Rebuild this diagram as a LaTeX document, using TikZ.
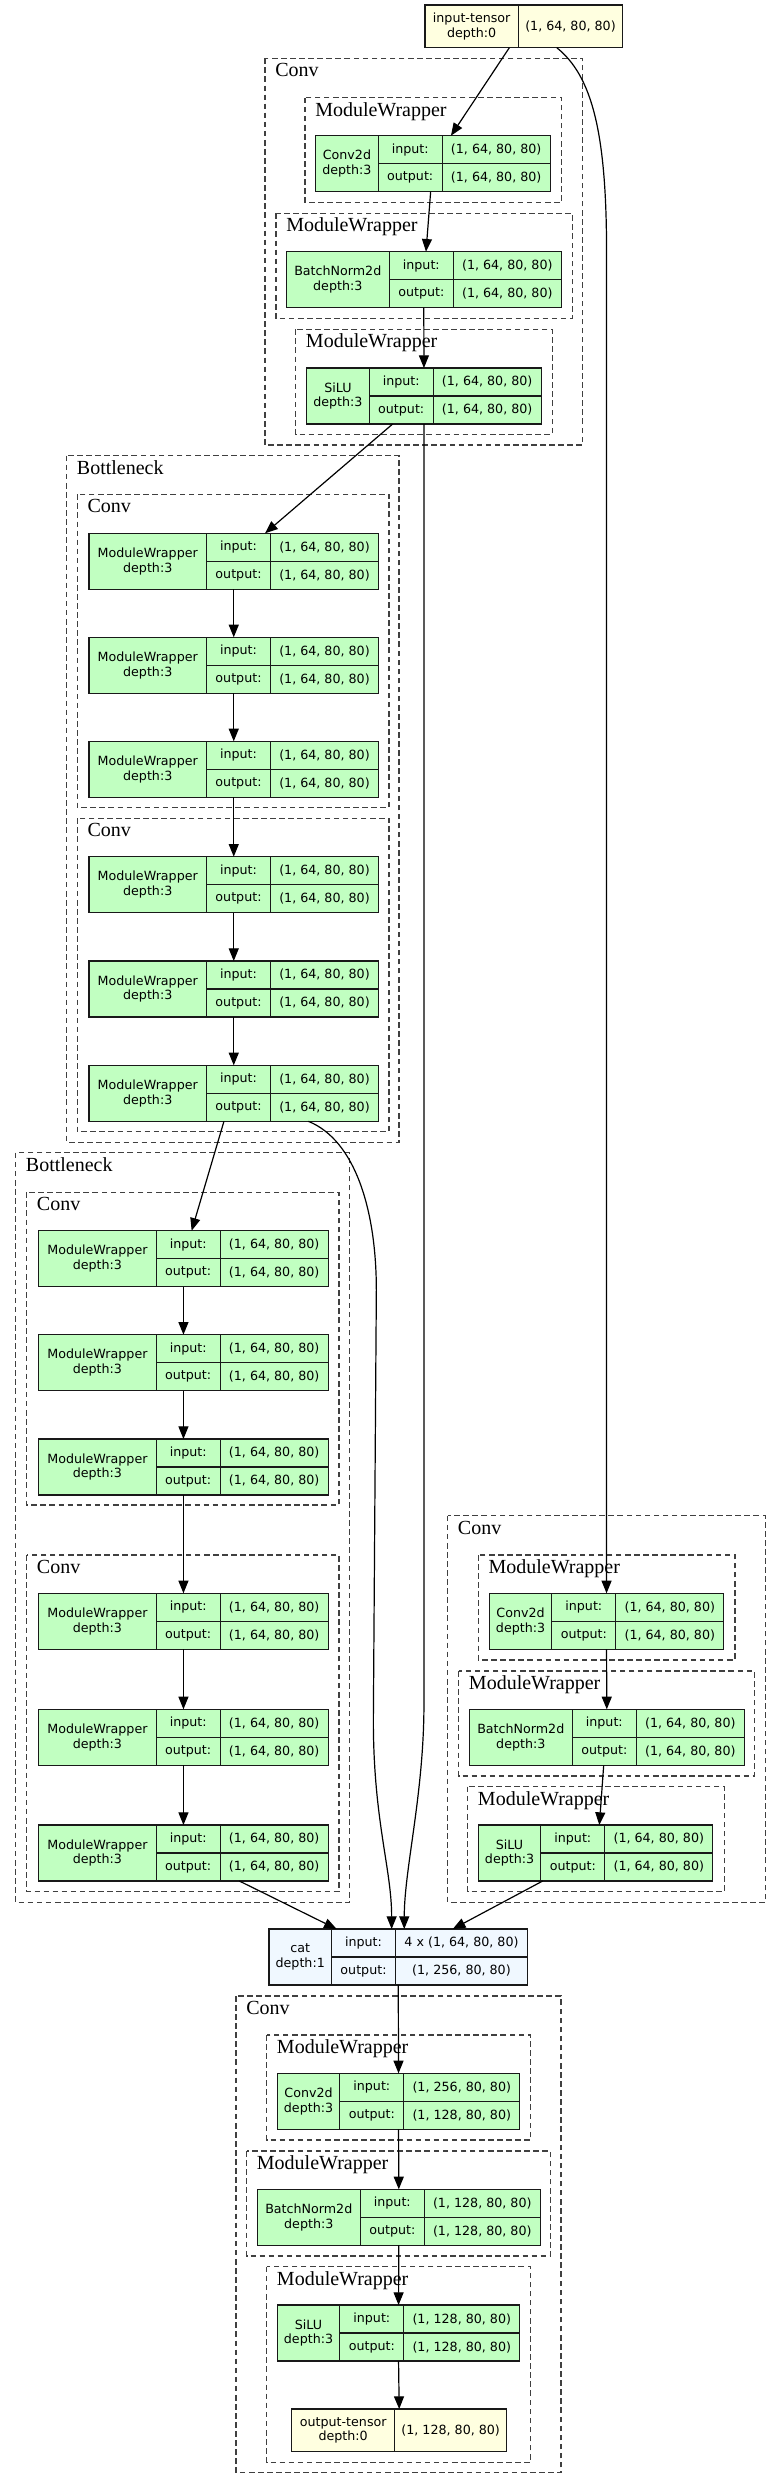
\documentclass[tikz,border=0pt]{standalone}
\usepackage{fontspec}
\setmainfont{Liberation Serif}
\newfontfamily\nodefont{DejaVu Sans}
\usetikzlibrary{arrows.meta,calc}

\definecolor{mwgreen}{HTML}{C1FFC1}
\definecolor{tensoryellow}{HTML}{FFFFE0}
\definecolor{funcblue}{HTML}{F0F8FF}

\tikzset{
  tblbox/.style={draw=black!90,line width=1pt,inner sep=0pt,outer sep=0pt,minimum height=42pt},
  tblline/.style={draw=black!90,line width=1pt},
  tbltext/.style={font=\nodefont\fontsize{9.5}{11}\selectfont,inner sep=0pt,align=center},
  cluster/.style={draw=black!75,line width=1pt,dash pattern=on 4.2pt off 2.6pt},
  clabel/.style={font=\fontsize{15}{16}\selectfont,inner sep=0pt,anchor=base west},
  arr/.style={-{Triangle[length=9.5pt,width=7.5pt]},line width=0.9pt}
}

% table node: name, fill, top left, name width, value width, title, input, output
\newcommand{\tblnode}[8]{%
  \pgfmathsetmacro\boxw{(#4+64+#5)*0.75}%
  \node[tblbox,fill=#2,minimum width=\boxw pt,anchor=north west] (#1) at (#3) {};
  \draw[tblline] ($(#1.north west)+(#4,0)$) -- ($(#1.south west)+(#4,0)$)
    ($(#1.north west)+(#4+64,0)$) -- ($(#1.south west)+(#4+64,0)$)
    ($(#1.west)+(#4,0)$) -- (#1.east);
  \node[tbltext] (#1-t) at ($(#1.west)+(#4/2,0)$) {#6};
  \node[tbltext] (#1-i) at ($(#1.north west)+(#4+32,14)$) {input:};
  \node[tbltext] (#1-o) at ($(#1.south west)+(#4+32,-14)$) {output:};
  \node[tbltext] (#1-iv) at ($(#1.north west)+(#4+64+#5/2,14)$) {#7};
  \node[tbltext] (#1-ov) at ($(#1.south west)+(#4+64+#5/2,-14)$) {#8};
}
% tensor node: name, top left, name width, value width, title, value
\newcommand{\tensornode}[6]{%
  \pgfmathsetmacro\boxw{(#3+#4)*0.75}%
  \node[tblbox,fill=tensoryellow,minimum width=\boxw pt,minimum height=32pt,anchor=north west] (#1) at (#2) {};
  \draw[tblline] ($(#1.north west)+(#3,0)$) -- ($(#1.south west)+(#3,0)$);
  \node[tbltext] (#1-t) at ($(#1.west)+(#3/2,0)$) {#5};
  \node[tbltext] (#1-v) at ($(#1.west)+(#3+#4/2,0)$) {#6};
}
% cluster: label name, top left, bottom right, label
\newcommand{\clusterbox}[4]{%
  \draw[cluster] (#2) rectangle (#3);
  \node[clabel] (#1) at ($(#2)+(10,18.5)$) {#4};
}

\begin{document}
\begin{tikzpicture}[x=0.75pt,y=-0.75pt]
\useasboundingbox[fill=white] (0,0) rectangle (781,2489);

\clusterbox{convT-l}{265,58.3}{582.7,445}{Conv}
\clusterbox{mwT1-l}{305,97.7}{561.7,202.3}{ModuleWrapper}
\clusterbox{mwT2-l}{276,213.3}{572.3,318.3}{ModuleWrapper}
\clusterbox{mwT3-l}{295.7,329.3}{552.3,434.3}{ModuleWrapper}
\clusterbox{bnk1-l}{66.7,455.7}{399,1142.3}{Bottleneck}
\clusterbox{convA-l}{77.3,494.3}{389,807.7}{Conv}
\clusterbox{convB-l}{77.3,818.3}{389,1131.7}{Conv}
\clusterbox{bnk2-l}{15.7,1152.7}{349.3,1902.3}{Bottleneck}
\clusterbox{convC-l}{26.7,1192.3}{339,1505}{Conv}
\clusterbox{convD-l}{26.7,1555}{339,1891.7}{Conv}
\clusterbox{convR-l}{447.7,1515.7}{765.3,1902.3}{Conv}
\clusterbox{mwR1-l}{478.3,1555}{735,1660}{ModuleWrapper}
\clusterbox{mwR2-l}{458.7,1671}{754.3,1776}{ModuleWrapper}
\clusterbox{mwR3-l}{467.7,1786.7}{724.3,1891.7}{ModuleWrapper}
\clusterbox{convO-l}{236,1996}{561,2472.7}{Conv}
\clusterbox{mwO1-l}{266.7,2035}{530.7,2140}{ModuleWrapper}
\clusterbox{mwO2-l}{246.7,2151}{550.7,2256}{ModuleWrapper}
\clusterbox{mwO3-l}{266.7,2266.7}{530.7,2462.3}{ModuleWrapper}

\tensornode{inT}{425,5}{93.3}{104.4}{input-tensor\\depth:0}{(1, 64, 80, 80)}
\tblnode{c2dT}{mwgreen}{315.7,135.7}{62.5}{108}{Conv2d\\depth:3}{(1, 64, 80, 80)}{(1, 64, 80, 80)}
\tblnode{bnT}{mwgreen}{286.3,251.7}{103}{108}{BatchNorm2d\\depth:3}{(1, 64, 80, 80)}{(1, 64, 80, 80)}
\tblnode{siluT}{mwgreen}{306.7,368}{62.5}{108}{SiLU\\depth:3}{(1, 64, 80, 80)}{(1, 64, 80, 80)}
\tblnode{A1}{mwgreen}{89,533.3}{117.5}{108}{ModuleWrapper\\depth:3}{(1, 64, 80, 80)}{(1, 64, 80, 80)}
\tblnode{A2}{mwgreen}{89,637.3}{117.5}{108}{ModuleWrapper\\depth:3}{(1, 64, 80, 80)}{(1, 64, 80, 80)}
\tblnode{A3}{mwgreen}{89,741.3}{117.5}{108}{ModuleWrapper\\depth:3}{(1, 64, 80, 80)}{(1, 64, 80, 80)}
\tblnode{B1}{mwgreen}{89,856.7}{117.5}{108}{ModuleWrapper\\depth:3}{(1, 64, 80, 80)}{(1, 64, 80, 80)}
\tblnode{B2}{mwgreen}{89,961}{117.5}{108}{ModuleWrapper\\depth:3}{(1, 64, 80, 80)}{(1, 64, 80, 80)}
\tblnode{B3}{mwgreen}{89,1065.3}{117.5}{108}{ModuleWrapper\\depth:3}{(1, 64, 80, 80)}{(1, 64, 80, 80)}
\tblnode{C1}{mwgreen}{38.7,1230.7}{117.5}{108}{ModuleWrapper\\depth:3}{(1, 64, 80, 80)}{(1, 64, 80, 80)}
\tblnode{C2}{mwgreen}{38.7,1334.7}{117.5}{108}{ModuleWrapper\\depth:3}{(1, 64, 80, 80)}{(1, 64, 80, 80)}
\tblnode{C3}{mwgreen}{38.7,1439}{117.5}{108}{ModuleWrapper\\depth:3}{(1, 64, 80, 80)}{(1, 64, 80, 80)}
\tblnode{D1}{mwgreen}{38.7,1593.3}{117.5}{108}{ModuleWrapper\\depth:3}{(1, 64, 80, 80)}{(1, 64, 80, 80)}
\tblnode{D2}{mwgreen}{38.7,1709.3}{117.5}{108}{ModuleWrapper\\depth:3}{(1, 64, 80, 80)}{(1, 64, 80, 80)}
\tblnode{D3}{mwgreen}{38.7,1825}{117.5}{108}{ModuleWrapper\\depth:3}{(1, 64, 80, 80)}{(1, 64, 80, 80)}
\tblnode{c2dR}{mwgreen}{489.3,1593.3}{62.5}{108}{Conv2d\\depth:3}{(1, 64, 80, 80)}{(1, 64, 80, 80)}
\tblnode{bnR}{mwgreen}{469.3,1709.3}{103}{108}{BatchNorm2d\\depth:3}{(1, 64, 80, 80)}{(1, 64, 80, 80)}
\tblnode{siluR}{mwgreen}{478.3,1825}{62.5}{108}{SiLU\\depth:3}{(1, 64, 80, 80)}{(1, 64, 80, 80)}
\tblnode{cat}{funcblue}{269,1929}{62.5}{132}{cat\\depth:1}{4 x (1, 64, 80, 80)}{(1, 256, 80, 80)}
\tblnode{c2dB}{mwgreen}{277.3,2073.3}{62.5}{116}{Conv2d\\depth:3}{(1, 256, 80, 80)}{(1, 128, 80, 80)}
\tblnode{bnB}{mwgreen}{257.3,2189.3}{103}{116}{BatchNorm2d\\depth:3}{(1, 128, 80, 80)}{(1, 128, 80, 80)}
\tblnode{siluB}{mwgreen}{277.3,2305}{62.5}{116}{SiLU\\depth:3}{(1, 128, 80, 80)}{(1, 128, 80, 80)}
\tensornode{outT}{291.7,2409}{103}{112}{output-tensor\\depth:0}{(1, 128, 80, 80)}

\draw[arr] ($(inT.south)+(-14.5,0)$) -- ($(c2dT.north)+(18,0)$);
\draw[arr] ($(inT.south)+(32.9,0)$) .. controls +(35,28) and +(0,-120) .. (c2dR.north |- bnT.north) -- (c2dR.north);
\draw[arr] ($(c2dT.south)+(-2.3,0)$) -- ($(bnT.north)+(2.2,0)$);
\draw[arr] (bnT.south) -- (siluT.north);
\draw[arr] ($(siluT.south)+(-31.3,0)$) -- ($(A1.north)+(31.3,0)$);
\draw[arr] (siluT.south) -- ++(0,1280) .. controls +(0,90) and +(0,-60) .. ($(cat.north)+(6,0)$);
\foreach \a/\b in {A1/A2,A2/A3,A3/B1,B1/B2,B2/B3,C1/C2,C2/C3,C3/D1,D1/D2,D2/D3,c2dR/bnR,cat/c2dB,c2dB/bnB,bnB/siluB,siluB/outT}
  \draw[arr] (\a.south) -- (\b.north);
\draw[arr] ($(B3.south)+(-9.8,0)$) -- ($(C1.north)+(8.2,0)$);
\draw[arr] ($(B3.south)+(74.6,0)$) .. controls +(47,19) and +(0,-80) .. ++(68,169) -- ++(-3,430) .. controls +(0,100) and +(0,-60) .. ($(cat.north)+(-6.6,0)$);
\draw[arr] ($(D3.south)+(55.9,0)$) -- ($(cat.north)+(-61.6,0)$);
\draw[arr] ($(bnR.south)+(-3.1,0)$) -- ($(siluR.north)+(3.8,0)$);
\draw[arr] ($(siluR.south)+(-52.9,0)$) -- ($(cat.north)+(54.5,0)$);
\end{tikzpicture}
\end{document}
